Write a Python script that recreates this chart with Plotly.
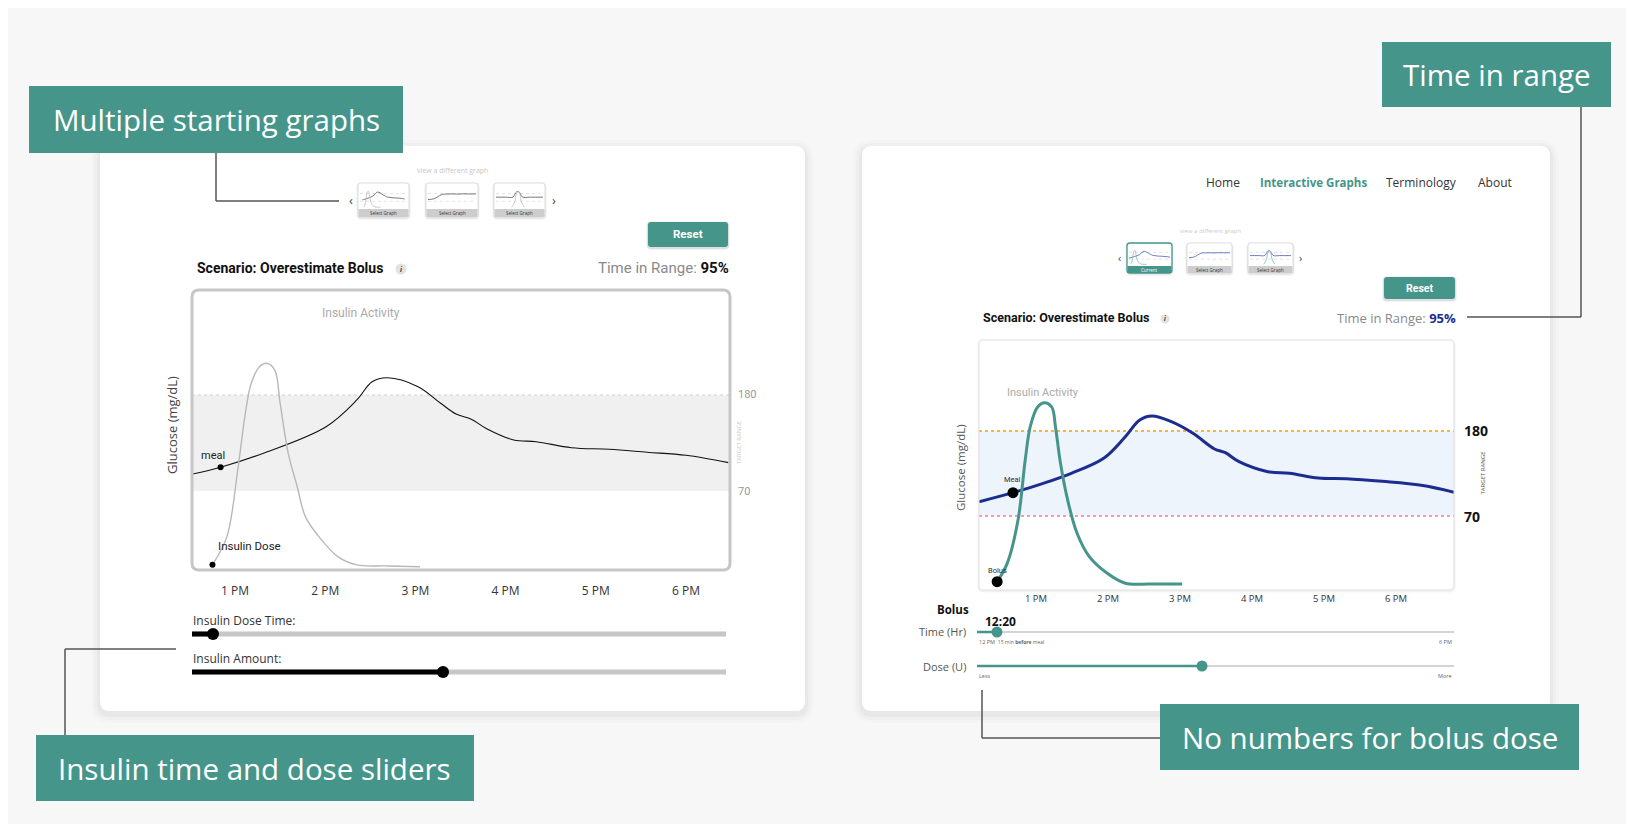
import plotly.graph_objects as go

W, H = 1634, 824
OFF = 8  # the page body adds an 8px margin, so pixel positions are shifted back by it
TEAL = "#46958a"
NAVY = "#1c2d8f"

# --- data ---
tick_hours = [13, 14, 15, 16, 17, 18]
tick_text = ["1 PM", "2 PM", "3 PM", "4 PM", "5 PM", "6 PM"]
target_low = 70
target_high = 180

# left (early sketch) chart
left_hours = [12.53, 12.84, 13.33, 14.01, 14.35, 14.52, 14.69, 15.03, 15.28, 15.45,
              15.62, 15.79, 16.09, 16.34, 16.73, 17.15, 17.57, 18.0, 18.47]
left_glucose = [89.5, 97.2, 113.9, 143.7, 174.3, 195.2, 199.8, 189.5, 170.5, 158.2,
                152.2, 141.4, 128.5, 126.5, 119.6, 117.8, 114.4, 110.9, 102.5]
left_insulin_hours = [12.75, 12.91, 13.03, 13.12, 13.18, 13.27, 13.35, 13.44, 13.5,
                      13.59, 13.69, 13.78, 13.93, 14.14, 14.35, 14.69, 15.05]
left_insulin = [0.011, 0.149, 0.476, 0.771, 0.902, 0.983, 1.0, 0.967, 0.804,
                0.558, 0.394, 0.247, 0.149, 0.051, 0.01, 0.005, 0.001]
left_meal_hour, left_meal_glucose = 12.84, 97.2
left_dose_hour, left_dose_insulin = 12.75, 0.011

# right (final) chart
right_hours = [12.21, 12.68, 13.1, 13.49, 13.94, 14.24, 14.44, 14.61, 14.88, 15.18,
               15.48, 15.63, 15.82, 16.22, 16.52, 16.92, 17.31, 17.81, 18.35, 18.81]
right_glucose = [88.5, 100.2, 112.3, 125.3, 144.7, 172.6, 194.2, 199.4, 192.0, 177.0,
                 156.7, 151.9, 140.3, 127.3, 125.3, 119.2, 118.3, 114.9, 109.8, 100.7]
right_insulin_hours = [12.46, 12.6, 12.75, 12.85, 12.92, 13.02, 13.12, 13.22, 13.27,
                       13.34, 13.44, 13.57, 13.74, 13.99, 14.24, 14.58, 15.03]
right_insulin = [0.013, 0.114, 0.353, 0.684, 0.868, 0.975, 1.0, 0.975, 0.868,
                 0.666, 0.463, 0.28, 0.151, 0.059, 0.004, 0.0, 0.0]
right_meal_hour, right_meal_glucose = 12.68, 100.2
right_bolus_hour, right_bolus_insulin = 12.46, 0.013

# other starting scenarios (thumbnails)
steady_hours = [12.2, 12.8, 13.3, 13.8, 14.2, 14.8, 15.5, 16.3, 17.0, 17.8, 18.8]
steady_glucose = [95, 100, 118, 150, 168, 172, 174, 171, 175, 173, 174]
spike_hours = [12.2, 13.5, 14.6, 14.9, 15.1, 15.4, 15.6, 15.9, 17.0, 18.8]
spike_glucose = [128, 128, 130, 180, 205, 205, 180, 130, 128, 128]
spike_insulin_hours = [14.4, 14.8, 15.1, 15.3, 15.5, 15.8, 16.2]
spike_insulin = [0.0, 0.3, 0.9, 1.0, 0.9, 0.3, 0.0]


def fx(x):
    return (x - OFF) / W


def fy(y):
    return 1 - (y - OFF) / H


def pt(x, y):
    return f"{fx(x):.5f},{fy(y):.5f}"


def rrect(x0, y0, x1, y1, r):
    return (f"M{pt(x0 + r, y0)} L{pt(x1 - r, y0)} Q{pt(x1, y0)} {pt(x1, y0 + r)} "
            f"L{pt(x1, y1 - r)} Q{pt(x1, y1)} {pt(x1 - r, y1)} L{pt(x0 + r, y1)} "
            f"Q{pt(x0, y1)} {pt(x0, y1 - r)} L{pt(x0, y0 + r)} Q{pt(x0, y0)} {pt(x0 + r, y0)} Z")


shapes = []
annotations = []


def box(x0, y0, x1, y1, r, fill, line_color=None, line_width=0, layer="below"):
    shapes.append(dict(type="path", xref="paper", yref="paper", path=rrect(x0, y0, x1, y1, r),
                       fillcolor=fill, layer=layer,
                       line=dict(color=line_color or "rgba(0,0,0,0)", width=line_width)))


def shadow(x0, y0, x1, y1, r, steps=((9, 0.012), (6, 0.018), (3, 0.028)), dy=3):
    for s, a in steps:
        box(x0 - s, y0 - s + dy, x1 + s, y1 + s + dy, r + s, f"rgba(0,0,0,{a})")


def seg(x0, y0, x1, y1, color, width, layer="below", dash="solid"):
    shapes.append(dict(type="line", xref="paper", yref="paper", x0=fx(x0), y0=fy(y0),
                       x1=fx(x1), y1=fy(y1), layer=layer,
                       line=dict(color=color, width=width, dash=dash)))


def dot(x, y, r, color, layer="above"):
    shapes.append(dict(type="circle", xref="paper", yref="paper", x0=fx(x - r), x1=fx(x + r),
                       y0=fy(y + r), y1=fy(y - r), fillcolor=color, layer=layer,
                       line=dict(width=0)))


def text(x, y, s, size, color="#333", family="Open Sans", xanchor="center", angle=0):
    annotations.append(dict(x=fx(x), y=fy(y), xref="paper", yref="paper", text=s,
                            showarrow=False, xanchor=xanchor, yanchor="middle", textangle=angle,
                            font=dict(size=size, color=color, family=family)))


# --- cards ---
for cx0, cx1 in [(100, 805), (862, 1550)]:
    shadow(cx0, 146, cx1, 711, 10)
    box(cx0, 146, cx1, 711, 10, "white")

# --- callout boxes and connectors ---
callouts = [(29, 86, 403, 153, "Multiple starting graphs"),
            (1382, 42, 1611, 107, "Time in range"),
            (36, 735, 474, 801, "Insulin time and dose sliders"),
            (1160, 704, 1579, 770, "No numbers for bolus dose")]
for x0, y0, x1, y1, label in callouts:
    shapes.append(dict(type="rect", xref="paper", yref="paper", x0=fx(x0), x1=fx(x1),
                       y0=fy(y1), y1=fy(y0), fillcolor=TEAL, line=dict(width=0), layer="above"))
    text((x0 + x1) / 2, (y0 + y1) / 2, label, 29.5, "white")

CON = "#555555"
seg(216, 153, 216, 201, CON, 1.5); seg(216, 201, 339, 201, CON, 1.5)
seg(1581, 107, 1581, 317, CON, 1.5); seg(1581, 317, 1467, 317, CON, 1.5)
seg(65, 735, 65, 649, CON, 1.5); seg(65, 649, 176, 649, CON, 1.5)
seg(1160, 738, 982, 738, CON, 1.5); seg(982, 738, 982, 690, CON, 1.5)

# --- left card header ---
text(452, 170, "view a different graph", 7, "#c8c8c8")
text(351, 200, "‹", 13, "#444")
text(554, 200, "›", 13, "#444")
shadow(648, 222, 728, 247, 3, steps=((2, 0.05), (1, 0.08)), dy=1)
box(648, 222, 728, 247, 3, TEAL)
text(688, 234.5, "<b>Reset</b>", 11.5, "white", "Roboto")
text(195, 268, "<b>Scenario: Overestimate Bolus</b>", 14, "#111", "Roboto", xanchor="left")
dot(401, 269, 5.5, "#e2e2e2")
text(401, 269, "<b><i>i</i></b>", 8, "#444", "Roboto")
text(731, 268, "<span style='color:#8a8a8a'>Time in Range:</span> <b>95%</b>", 15, "#111",
     "Roboto", xanchor="right")

# --- right card header ---
text(1223, 183, "Home", 12, "#333")
text(1313, 183, "<b>Interactive Graphs</b>", 11.5, TEAL)
text(1421, 183, "Terminology", 12, "#333")
text(1495, 183, "About", 12, "#333")
text(1210, 231, "view a different graph", 6, "#cccccc")
text(1119, 257, "‹", 11, "#444")
text(1300, 257, "›", 11, "#444")
shadow(1384, 277, 1455, 299, 3, steps=((2, 0.05), (1, 0.08)), dy=1)
box(1384, 277, 1455, 299, 3, TEAL)
text(1419.5, 288, "<b>Reset</b>", 10.5, "white", "Roboto")
text(981, 318, "<b>Scenario: Overestimate Bolus</b>", 12.5, "#111", "Roboto", xanchor="left")
dot(1165, 319, 4.5, "#e2e2e2")
text(1165, 319, "<b><i>i</i></b>", 7, "#444", "Roboto")
text(1458, 318, f"<span style='color:#8a8a8a'>Time in Range:</span> <b style='color:{NAVY}'>95%</b>",
     13, "#111", "Open Sans", xanchor="right")

# --- plot frames ---
box(192, 290, 730, 570, 7, "rgba(0,0,0,0)", "#c6c6c6", 3, layer="above")
shadow(979, 340, 1454, 590, 4, steps=((2, 0.02), (1, 0.03)), dy=1)
box(979, 340, 1454, 590, 4, "white")
box(979, 340, 1454, 590, 4, "rgba(0,0,0,0)", "#e0e0e0", 1, layer="above")

# target range bands
shapes.append(dict(type="rect", xref="x domain", yref="y", x0=0, x1=1, y0=target_low, y1=target_high,
                   fillcolor="#f0f0f0", line=dict(width=0), layer="below"))
shapes.append(dict(type="line", xref="x domain", yref="y", x0=0, x1=1, y0=target_high, y1=target_high,
                   line=dict(color="#cfcfcf", width=1, dash="dot"), layer="below"))
shapes.append(dict(type="rect", xref="x2 domain", yref="y3", x0=0, x1=1, y0=target_low, y1=target_high,
                   fillcolor="#edf4fc", line=dict(width=0), layer="below"))
shapes.append(dict(type="line", xref="x2 domain", yref="y3", x0=0, x1=1, y0=target_high, y1=target_high,
                   line=dict(color="#f5b63a", width=2.2, dash="dot"), layer="below"))
shapes.append(dict(type="line", xref="x2 domain", yref="y3", x0=0, x1=1, y0=target_low, y1=target_low,
                   line=dict(color="#f29bab", width=2.2, dash="dot"), layer="below"))

for val in (target_high, target_low):
    annotations.append(dict(x=1, y=val, xref="x domain", yref="y", text=str(val), showarrow=False,
                            xanchor="left", xshift=6, font=dict(size=11, color="#9a9a9a", family="Roboto")))
    annotations.append(dict(x=1, y=val, xref="x2 domain", yref="y3", text=f"<b>{val}</b>", showarrow=False,
                            xanchor="left", xshift=8, font=dict(size=14, color="#111", family="Open Sans")))
annotations.append(dict(x=1, y=(target_low + target_high) / 2, xref="x domain", yref="y", text="TARGET RANGE",
                        showarrow=False, xshift=15, textangle=-90, font=dict(size=6, color="#cccccc")))
annotations.append(dict(x=1, y=(target_low + target_high) / 2, xref="x2 domain", yref="y3", text="TARGET RANGE",
                        showarrow=False, xshift=34, textangle=-90, font=dict(size=6, color="#555")))

text(172, 425, "Glucose (mg/dL)", 13, "#444", angle=-90)
text(960, 468, "Glucose (mg/dL)", 11.5, "#555", angle=-90)
text(361, 313, "Insulin Activity", 12, "#aaaaaa", "Roboto")
text(1043, 393, "Insulin Activity", 11, "#aaaaaa", "Roboto")

# --- traces ---
fig = go.Figure()
fig.add_trace(go.Scatter(x=left_insulin_hours, y=left_insulin, mode="lines", yaxis="y2", xaxis="x",
                         line=dict(color="#b8b8b8", width=1.4, shape="spline")))
fig.add_trace(go.Scatter(x=left_hours, y=left_glucose, mode="lines", xaxis="x", yaxis="y",
                         line=dict(color="#111", width=1.1, shape="spline")))
fig.add_trace(go.Scatter(x=[left_meal_hour], y=[left_meal_glucose], mode="markers", xaxis="x", yaxis="y",
                         marker=dict(color="#000", size=6)))
fig.add_trace(go.Scatter(x=[left_dose_hour], y=[left_dose_insulin], mode="markers", xaxis="x", yaxis="y2",
                         marker=dict(color="#000", size=6)))

fig.add_trace(go.Scatter(x=right_insulin_hours, y=right_insulin, mode="lines", xaxis="x2", yaxis="y4",
                         line=dict(color=TEAL, width=3, shape="spline")))
fig.add_trace(go.Scatter(x=right_hours, y=right_glucose, mode="lines", xaxis="x2", yaxis="y3",
                         line=dict(color=NAVY, width=3, shape="spline")))
fig.add_trace(go.Scatter(x=[right_meal_hour], y=[right_meal_glucose], mode="markers", xaxis="x2", yaxis="y3",
                         marker=dict(color="#000", size=11)))
fig.add_trace(go.Scatter(x=[right_bolus_hour], y=[right_bolus_insulin], mode="markers", xaxis="x2", yaxis="y4",
                         marker=dict(color="#000", size=11)))

annotations.append(dict(x=left_meal_hour, y=left_meal_glucose, xref="x", yref="y", text="meal",
                        showarrow=False, xshift=-8, yshift=12, font=dict(size=11, color="#222", family="Roboto")))
annotations.append(dict(x=left_dose_hour, y=left_dose_insulin, xref="x", yref="y2", text="Insulin Dose",
                        showarrow=False, xanchor="left", xshift=4, yshift=19,
                        font=dict(size=11.5, color="#222", family="Roboto")))
annotations.append(dict(x=right_meal_hour, y=right_meal_glucose, xref="x2", yref="y3", text="Meal",
                        showarrow=False, yshift=13, font=dict(size=7.5, color="#333", family="Roboto")))
annotations.append(dict(x=right_bolus_hour, y=right_bolus_insulin, xref="x2", yref="y4", text="Bolus",
                        showarrow=False, yshift=11, font=dict(size=7.5, color="#333", family="Roboto")))

# --- thumbnails ---
thumbs = [
    ((358, 183, 409, 217), left_hours, left_glucose, left_insulin_hours, left_insulin, "#555", "#bbb", "Select Graph", False),
    ((426, 183, 478, 217), steady_hours, steady_glucose, None, None, "#555", "#bbb", "Select Graph", False),
    ((494, 183, 545, 217), spike_hours, spike_glucose, spike_insulin_hours, spike_insulin, "#555", "#bbb", "Select Graph", False),
    ((1127, 243, 1172, 273), right_hours, right_glucose, right_insulin_hours, right_insulin, "#4a5bb8", "#7cbdb3", "Current", True),
    ((1187, 243, 1232, 273), steady_hours, steady_glucose, None, None, "#4a5bb8", "#7cbdb3", "Select Graph", False),
    ((1248, 243, 1293, 273), spike_hours, spike_glucose, spike_insulin_hours, spike_insulin, "#4a5bb8", "#7cbdb3", "Select Graph", False),
]
thumb_axes = {}
for k, (bx, gh, gv, ih, iv, gcol, icol, label, current) in enumerate(thumbs):
    x0, y0, x1, y1 = bx
    foot = 8 if y1 < 230 else 7
    shadow(x0, y0, x1, y1, 3, steps=((2, 0.03), (1, 0.05)), dy=1)
    box(x0, y0, x1, y1, 3, "white", TEAL if current else "#d8d8d8", 1.3 if current else 0.8)
    shapes.append(dict(type="rect", xref="paper", yref="paper", x0=fx(x0 + 0.5), x1=fx(x1 - 0.5),
                       y0=fy(y1), y1=fy(y1 - foot), fillcolor=TEAL if current else "#cdcdcd",
                       line=dict(width=0), layer="below"))
    text((x0 + x1) / 2, y1 - foot / 2, label, 4.5, "white" if current else "#333")
    xa, ya, yb = 3 + k, 5 + 2 * k, 6 + 2 * k
    thumb_axes[f"xaxis{xa}"] = dict(domain=[fx(x0 + 2), fx(x1 - 2)], range=[12.2, 18.8],
                                    anchor=f"y{ya}", visible=False)
    thumb_axes[f"yaxis{ya}"] = dict(domain=[fy(y1 - foot - 1), fy(y0 + 2)], range=[-25, 300],
                                    anchor=f"x{xa}", visible=False)
    thumb_axes[f"yaxis{yb}"] = dict(overlaying=f"y{ya}", range=[-0.05, 1.4], anchor=f"x{xa}", visible=False)
    for val in (target_low, target_high):
        shapes.append(dict(type="line", xref=f"x{xa} domain", yref=f"y{ya}", x0=0, x1=1, y0=val, y1=val,
                           line=dict(color="#d0d0d0", width=0.6, dash="dot"), layer="below"))
    fig.add_trace(go.Scatter(x=gh, y=gv, mode="lines", xaxis=f"x{xa}", yaxis=f"y{ya}",
                             line=dict(color=gcol, width=0.8, shape="spline")))
    if ih is not None:
        fig.add_trace(go.Scatter(x=ih, y=iv, mode="lines", xaxis=f"x{xa}", yaxis=f"y{yb}",
                                 line=dict(color=icol, width=0.8, shape="spline")))

# --- sliders (left card) ---
text(191, 620, "Insulin Dose Time:", 12, "#333", xanchor="left")
seg(192, 634, 726, 634, "#c6c6c6", 5)
seg(192, 634, 213, 634, "#000", 5)
dot(213, 634, 6, "#000", layer="below")
text(191, 658, "Insulin Amount:", 12, "#333", xanchor="left")
seg(192, 672, 726, 672, "#c6c6c6", 5)
seg(192, 672, 443, 672, "#000", 5)
dot(443, 672, 6, "#000", layer="below")

# --- sliders (right card) ---
text(971, 609, "<b>Bolus</b>", 11.5, "#111", xanchor="right")
text(983, 621, "<b>12:20</b>", 12, "#111", xanchor="left")
text(968, 631, "Time (Hr)", 11, "#555", xanchor="right")
seg(977, 632, 1454, 632, "#d4d4d4", 2)
seg(977, 632, 997, 632, TEAL, 2.5)
dot(997, 632, 5.5, TEAL, layer="below")
text(977, 642, "12 PM  <span style='font-size:5px'>15 min <b>before</b> meal</span>", 5.5, "#666", xanchor="left")
text(1454, 642, "6 PM", 5.5, "#666", xanchor="right")
text(968, 666, "Dose (U)", 11, "#555", xanchor="right")
seg(977, 666, 1454, 666, "#d4d4d4", 2)
seg(977, 666, 1202, 666, TEAL, 2.5)
dot(1202, 666, 5.5, TEAL, layer="below")
text(977, 676, "Less", 5.5, "#666", xanchor="left")
text(1454, 676, "More", 5.5, "#666", xanchor="right")

fig.update_layout(
    width=W, height=H,
    margin=dict(l=0, r=0, t=0, b=0),
    paper_bgcolor="#f7f7f7",
    plot_bgcolor="rgba(0,0,0,0)",
    showlegend=False,
    shapes=shapes,
    annotations=annotations,
    xaxis=dict(domain=[fx(192), fx(730)], range=[12.523, 18.488], anchor="y",
               tickvals=tick_hours, ticktext=tick_text, ticks="", ticklabelstandoff=12,
               showgrid=False, zeroline=False, showline=False,
               tickfont=dict(size=12, color="#333", family="Open Sans")),
    yaxis=dict(domain=[fy(570), fy(290)], range=[-20.5, 300.3], anchor="x", visible=False),
    yaxis2=dict(overlaying="y", range=[-0.015, 1.36], anchor="x", visible=False),
    xaxis2=dict(domain=[fx(979), fx(1454)], range=[12.208, 18.806], anchor="y3",
                tickvals=tick_hours, ticktext=tick_text, ticks="", ticklabelstandoff=1,
                showgrid=False, zeroline=False, showline=False,
                tickfont=dict(size=9.5, color="#333", family="Open Sans")),
    yaxis3=dict(domain=[fy(590), fy(340)], range=[-25.7, 297.7], anchor="x2", visible=False),
    yaxis4=dict(overlaying="y3", range=[-0.033, 1.346], anchor="x2", visible=False),
    **thumb_axes,
)

fig.write_html("out.html")
